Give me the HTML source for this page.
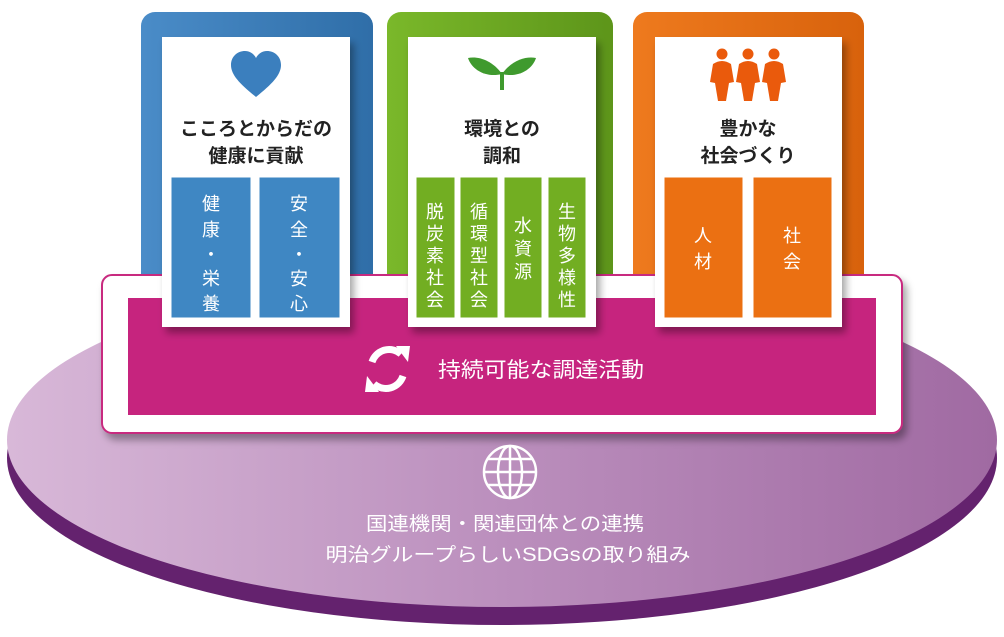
<!DOCTYPE html>
<html><head><meta charset="utf-8"><style>
html,body{margin:0;padding:0;background:#fff;}
svg text{font-family:"Liberation Sans","Noto Sans CJK JP",sans-serif;}
</style></head><body>
<svg width="1004" height="632" viewBox="0 0 1004 632" xmlns="http://www.w3.org/2000/svg">
<defs>
<linearGradient id="disc" x1="0" x2="1" y1="0" y2="0">
<stop offset="0" stop-color="#d8b8d8"/><stop offset="0.5" stop-color="#bb8fbd"/><stop offset="1" stop-color="#a06aa2"/>
</linearGradient>
<linearGradient id="blue" x1="0" x2="1"><stop offset="0" stop-color="#4a8cc8"/><stop offset="1" stop-color="#2f6ea8"/></linearGradient>
<linearGradient id="green" x1="0" x2="1"><stop offset="0" stop-color="#7ab82a"/><stop offset="1" stop-color="#5d951a"/></linearGradient>
<linearGradient id="orange" x1="0" x2="1"><stop offset="0" stop-color="#ee7a1e"/><stop offset="1" stop-color="#d8620c"/></linearGradient>
<filter id="sh" x="-10%" y="-10%" width="130%" height="130%"><feDropShadow dx="4" dy="6" stdDeviation="4" flood-color="#000" flood-opacity="0.35"/></filter>
</defs>
<ellipse cx="502" cy="458" rx="495" ry="167" fill="#64226e"/>
<ellipse cx="502" cy="440" rx="495" ry="167" fill="url(#disc)"/>
<rect x="141" y="12" width="232" height="300" rx="14" fill="url(#blue)"/>
<rect x="387" y="12" width="226" height="300" rx="14" fill="url(#green)"/>
<rect x="633" y="12" width="231" height="300" rx="14" fill="url(#orange)"/>
<rect x="102" y="275" width="800" height="158" rx="10" fill="#fff" stroke="#c8297f" stroke-width="2" filter="url(#sh)"/>
<rect x="128" y="298" width="748" height="117" fill="#c6247e"/>
<rect x="162" y="37" width="188" height="290" fill="#fff" filter="url(#sh)"/>
<rect x="408" y="37" width="188" height="290" fill="#fff" filter="url(#sh)"/>
<rect x="655" y="37" width="187" height="290" fill="#fff" filter="url(#sh)"/>
<path d="M256 97 C240 84 231 75 231 65 C231 56 238 51 245 51 C250 51 254 54 256 58 C258 54 262 51 267 51 C274 51 281 56 281 65 C281 75 272 84 256 97 Z" fill="#3b7fbe"/>
<path d="M502 90 L502 72" stroke="#3f9a2e" stroke-width="4"/>
<path d="M502 74 C492 60 478 56 468 58 C472 70 486 78 502 74 Z" fill="#3f9a2e"/>
<path d="M502 74 C512 60 526 56 536 58 C532 70 518 78 502 74 Z" fill="#3f9a2e"/>
<g fill="#ea5a0c">
<circle cx="722" cy="54" r="5.5"/><path d="M713 64 Q722 58 731 64 L734 82 L729 83 L726 101 L718 101 L715 83 L710 82 Z"/>
<circle cx="748" cy="54" r="5.5"/><path d="M739 64 Q748 58 757 64 L760 82 L755 83 L752 101 L744 101 L741 83 L736 82 Z"/>
<circle cx="774" cy="54" r="5.5"/><path d="M765 64 Q774 58 783 64 L786 82 L781 83 L778 101 L770 101 L767 83 L762 82 Z"/>
</g>
<g font-size="19" fill="#222" text-anchor="middle" font-weight="bold">
<text x="256" y="135">こころとからだの</text><text x="256" y="162">健康に貢献</text>
<text x="502" y="135">環境との</text><text x="502" y="162">調和</text>
<text x="748" y="135">豊かな</text><text x="748" y="162">社会づくり</text>
</g>
<g stroke="#fff" stroke-width="1">
<rect x="171" y="177" width="80" height="141" fill="#3f87c3"/>
<rect x="259" y="177" width="81" height="141" fill="#3f87c3"/>
<rect x="416" y="177" width="39" height="141" fill="#72ae22"/>
<rect x="460" y="177" width="38" height="141" fill="#72ae22"/>
<rect x="504" y="177" width="38" height="141" fill="#72ae22"/>
<rect x="548" y="177" width="38" height="141" fill="#72ae22"/>
<rect x="664" y="177" width="79" height="141" fill="#eb7012"/>
<rect x="753" y="177" width="79" height="141" fill="#eb7012"/>
</g>
<g font-size="18" fill="#fff" text-anchor="middle">
<text x="211" y="210">健</text><text x="211" y="236">康</text><text x="211" y="261">・</text><text x="211" y="285">栄</text><text x="211" y="310">養</text>
<text x="299" y="210">安</text><text x="299" y="236">全</text><text x="299" y="261">・</text><text x="299" y="285">安</text><text x="299" y="310">心</text>
<text x="435" y="218">脱</text><text x="435" y="240">炭</text><text x="435" y="262">素</text><text x="435" y="284">社</text><text x="435" y="306">会</text>
<text x="479" y="218">循</text><text x="479" y="240">環</text><text x="479" y="262">型</text><text x="479" y="284">社</text><text x="479" y="306">会</text>
<text x="523" y="232">水</text><text x="523" y="255">資</text><text x="523" y="278">源</text>
<text x="567" y="218">生</text><text x="567" y="240">物</text><text x="567" y="262">多</text><text x="567" y="284">様</text><text x="567" y="306">性</text>
<text x="703" y="242">人</text><text x="703" y="268">材</text>
<text x="792" y="242">社</text><text x="792" y="268">会</text>
</g>
<g fill="none" stroke="#fff" stroke-width="7">
<path d="M372 362 A18 18 0 0 1 401 354"/>
<path d="M403 376 A18 18 0 0 1 374 384"/>
</g>
<path d="M396 346 L410 346 L408 362 Z" fill="#fff"/>
<path d="M379 392 L365 392 L367 376 Z" fill="#fff"/>
<text x="541" y="377" font-size="21" fill="#fff" text-anchor="middle" textLength="206" lengthAdjust="spacingAndGlyphs">持続可能な調達活動</text>
<g fill="none" stroke="#fff" stroke-width="2.5">
<circle cx="510" cy="472" r="26"/>
<ellipse cx="510" cy="472" rx="12" ry="26"/>
<line x1="510" y1="446" x2="510" y2="498"/>
<line x1="484" y1="472" x2="536" y2="472"/>
<line x1="488" y1="459" x2="532" y2="459"/>
<line x1="488" y1="485" x2="532" y2="485"/>
</g>
<g font-size="19" fill="#fff" text-anchor="middle">
<text x="505" y="530" textLength="278" lengthAdjust="spacingAndGlyphs">国連機関・関連団体との連携</text>
<text x="508" y="561" textLength="365" lengthAdjust="spacingAndGlyphs">明治グループらしいSDGsの取り組み</text>
</g>
</svg>
</body></html>
